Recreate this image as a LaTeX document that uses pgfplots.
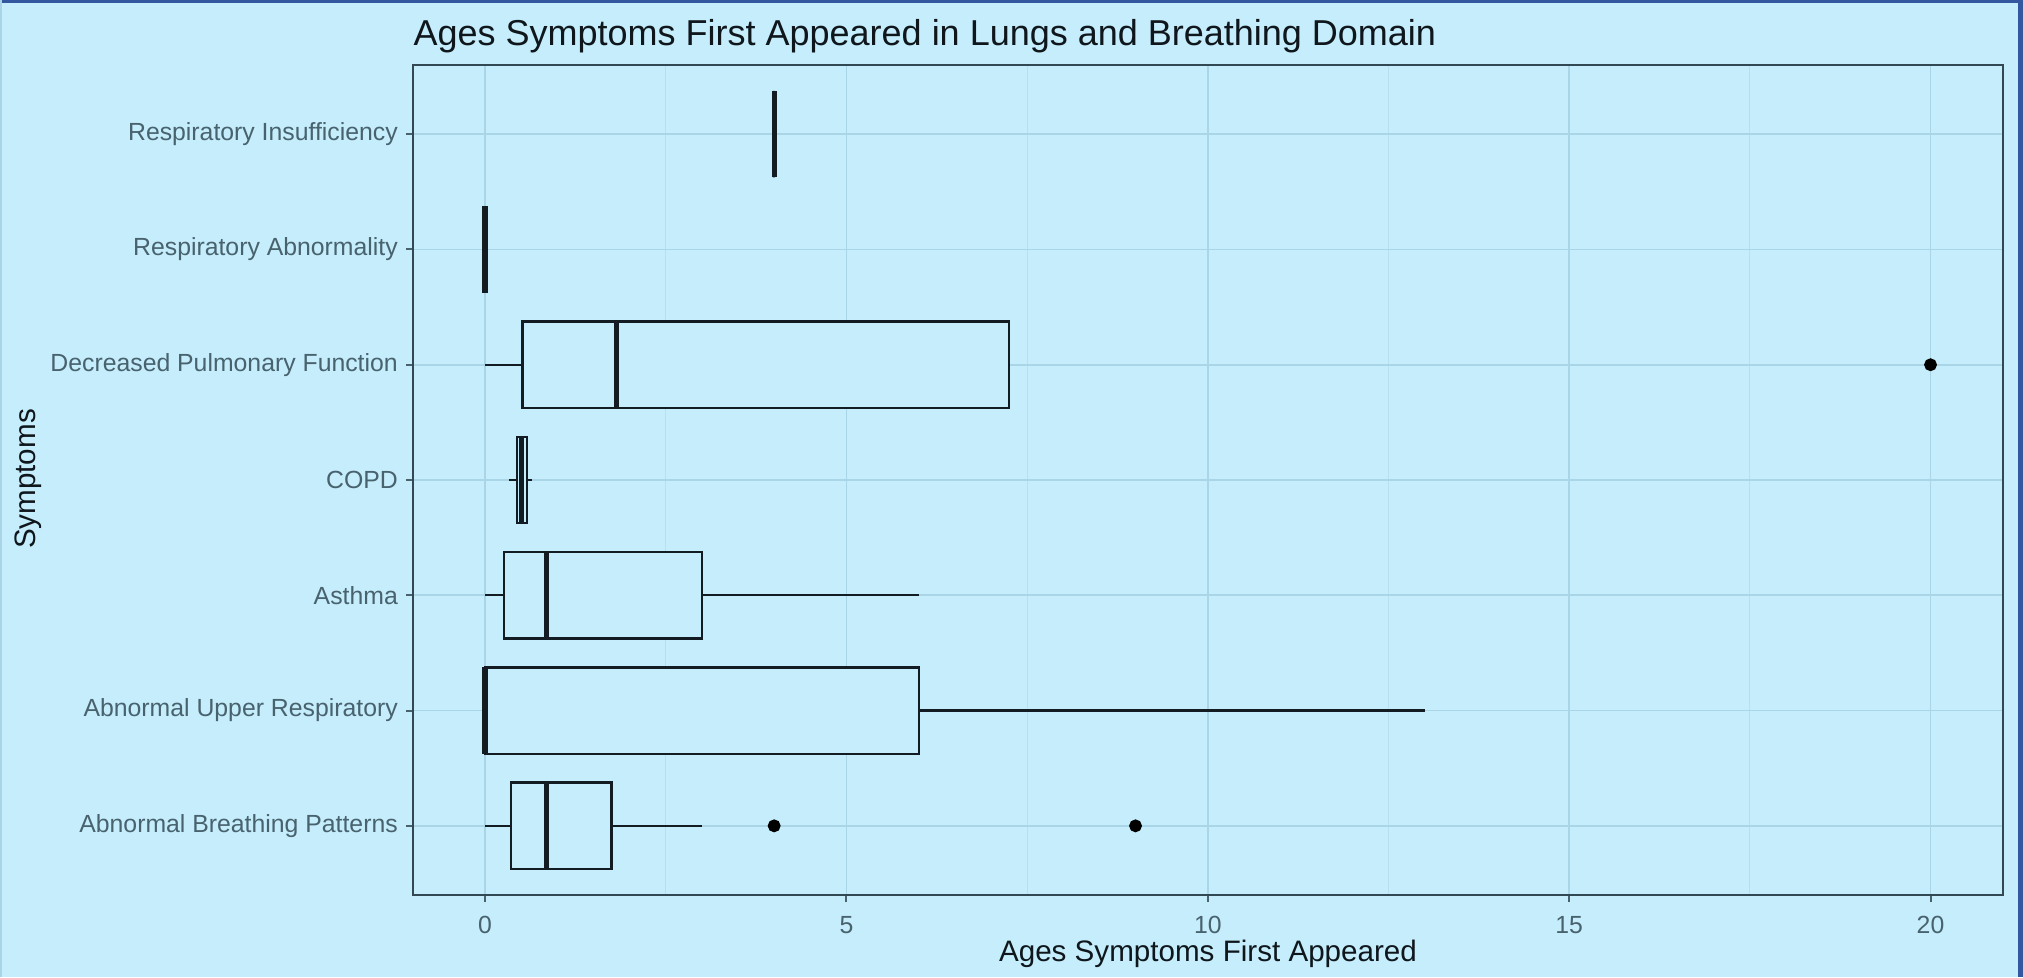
\documentclass[border=0pt]{standalone}
\usepackage{fontspec}
\setmainfont{Liberation Sans}
\usepackage{pgfplots}
\pgfplotsset{compat=1.18}
\usepgfplotslibrary{statistics}
\definecolor{bg}{RGB}{197,237,251}
\definecolor{gridc}{RGB}{170,213,230}
\definecolor{gridminor}{RGB}{182,224,240}
\definecolor{framec}{RGB}{50,72,82}
\definecolor{tickc}{RGB}{72,98,110}
\definecolor{edgeblue}{RGB}{52,88,160}
\definecolor{boxc}{RGB}{18,28,34}
\definecolor{titlec}{RGB}{15,22,28}
\begin{document}
\begin{tikzpicture}
\fill[bg] (0,0) rectangle (505.75pt,244.25pt);
\fill[edgeblue] (0,243.4pt) rectangle (505.75pt,244.25pt);
\fill[edgeblue] (504.5pt,0) rectangle (505.75pt,244.25pt);
\fill[gridc] (0,0) rectangle (0.6pt,244.25pt);
\begin{axis}[
  at={(103.2pt,20.5pt)}, anchor=south west, scale only axis,
  width=397.5pt, height=207.5pt,
  xmin=-1, xmax=21, ymin=0.4, ymax=7.6,
  xtick={0,5,10,15,20}, minor xtick={2.5,7.5,12.5,17.5},
  ytick={1,2,3,4,5,6,7},
  yticklabels={Abnormal Breathing Patterns, Abnormal Upper Respiratory, Asthma, COPD, Decreased Pulmonary Function, Respiratory Abnormality, Respiratory Insufficiency},
  xmajorgrids, ymajorgrids, xminorgrids,
  major grid style={gridc, line width=0.45pt},
  minor grid style={gridminor, line width=0.3pt},
  axis line style={framec, line width=0.6pt},
  tick align=outside, major tick length=1.75pt, minor tick length=0pt,
  tick style={tickc, line width=0.5pt},
  xtick pos=left, ytick pos=left,
  ticklabel style={font=\fontsize{6.2}{7}\selectfont, text=tickc, inner sep=0pt},
  yticklabel style={xshift=-1.8pt},
  xticklabel style={yshift=-3.4pt},
  /pgf/number format/assume math mode=true,
  boxplot/draw direction=x,
  boxplot/box extend=0.75,
  boxplot/whisker extend=0,
  boxplot/every median/.style={line width=1.3pt},
  axis background/.style={fill=bg},
  every axis plot/.append style={draw=boxc, fill=bg, line width=0.6pt, mark=*, mark size=1.3pt, mark options={fill=black, draw=black}},
]
% Abnormal Breathing Patterns
\addplot[boxplot prepared={draw position=1, lower whisker=0, lower quartile=0.36, median=0.85, upper quartile=1.75, upper whisker=3}]
  table[row sep=\\, y index=0] {v\\ 4\\ 9\\};
% Abnormal Upper Respiratory
\addplot[boxplot prepared={draw position=2, lower whisker=0, lower quartile=0, median=0, upper quartile=6, upper whisker=13}]
  coordinates {};
% Asthma
\addplot[boxplot prepared={draw position=3, lower whisker=0, lower quartile=0.26, median=0.85, upper quartile=3, upper whisker=6}]
  coordinates {};
% COPD
\addplot[boxplot prepared={draw position=4, lower whisker=0.33, lower quartile=0.44, median=0.5, upper quartile=0.58, upper whisker=0.65}]
  coordinates {};
% Decreased Pulmonary Function
\addplot[boxplot prepared={draw position=5, lower whisker=0, lower quartile=0.52, median=1.82, upper quartile=7.25, upper whisker=7.25}]
  table[row sep=\\, y index=0] {v\\ 20\\};
% Respiratory Abnormality
\addplot[boxplot prepared={draw position=6, lower whisker=0, lower quartile=0, median=0, upper quartile=0, upper whisker=0}]
  coordinates {};
% Respiratory Insufficiency
\addplot[boxplot prepared={draw position=7, lower whisker=4, lower quartile=4, median=4, upper quartile=4, upper whisker=4}]
  coordinates {};
\end{axis}
\node[anchor=base west, text=titlec, font=\fontsize{9}{10}\selectfont, inner sep=0pt] at (103.2pt,233pt) {Ages Symptoms First Appeared in Lungs and Breathing Domain};
\node[anchor=base, text=titlec, font=\fontsize{7.4}{8}\selectfont, inner sep=0pt] at (302pt,3.8pt) {Ages Symptoms First Appeared};
\node[anchor=center, rotate=90, text=titlec, font=\fontsize{7.4}{8}\selectfont, inner sep=0pt] at (7pt,124.5pt) {Symptoms};
\end{tikzpicture}
\end{document}
